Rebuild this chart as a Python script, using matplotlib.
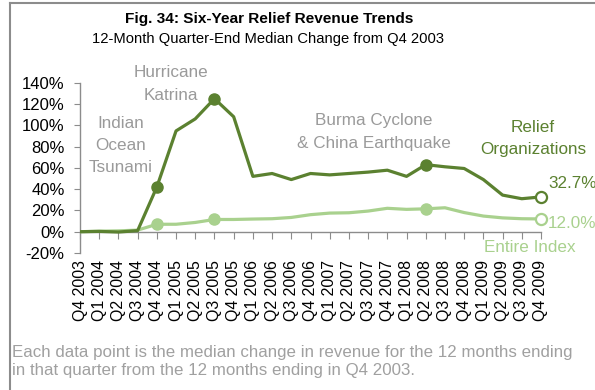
import matplotlib
matplotlib.use("Agg")
import matplotlib.pyplot as plt
from matplotlib.lines import Line2D
from matplotlib.ticker import FuncFormatter

plt.rcParams['font.family'] = ['Liberation Sans', 'DejaVu Sans']

quarters = ["Q4 2003", "Q1 2004", "Q2 2004", "Q3 2004", "Q4 2004", "Q1 2005", "Q2 2005",
            "Q3 2005", "Q4 2005", "Q1 2006", "Q2 2006", "Q3 2006", "Q4 2006", "Q1 2007",
            "Q2 2007", "Q3 2007", "Q4 2007", "Q1 2008", "Q2 2008", "Q3 2008", "Q4 2008",
            "Q1 2009", "Q2 2009", "Q3 2009", "Q4 2009"]
relief = [0, 0.3, -0.3, 1, 42, 94.7, 106, 125, 108, 52, 54.7, 49, 54.7, 53.4, 54.7, 56,
          57.8, 52, 63, 61, 59.4, 49, 34.4, 31, 32.7]
entire = [0, 0.5, 0.8, 1.5, 7, 7, 8.7, 11.5, 11.5, 11.9, 12.2, 13.4, 16, 17.5, 17.8, 19.4,
          22, 21, 21.5, 22.5, 18, 14.7, 13, 12.2, 12.0]
event_idx = [4, 7, 18]
yticks = [-20, 0, 20, 40, 60, 80, 100, 120, 140]

DARK = "#5b8130"
LIGHT = "#a9d18e"
GRAY = "#9a9a9a"
AXIS = "#8c8c8c"

W, H = 595, 390
fig = plt.figure(figsize=(W / 100, H / 100), dpi=100)

def fx(x):
    return x / W

def fy(y):
    return 1 - y / H

ax = fig.add_axes([fx(80), fy(253), fx(541) - fx(80), fy(82.7) - fy(253)])
x = list(range(len(quarters)))

ax.plot(x, entire, color=LIGHT, lw=2.3, solid_capstyle='round', zorder=3)
ax.plot(x, relief, color=DARK, lw=2.3, solid_capstyle='round', zorder=4)
ax.plot(event_idx, [entire[i] for i in event_idx], 'o', color=LIGHT, ms=8, zorder=5)
ax.plot(event_idx, [relief[i] for i in event_idx], 'o', color=DARK, ms=8, zorder=6)
ax.plot([x[-1]], [entire[-1]], 'o', mfc='white', mec=LIGHT, mew=1.6, ms=8, zorder=7, clip_on=False)
ax.plot([x[-1]], [relief[-1]], 'o', mfc='white', mec=DARK, mew=1.6, ms=8, zorder=7, clip_on=False)

ax.set_xlim(0, len(quarters) - 1)
ax.set_ylim(-20, 140)
ax.set_yticks(yticks)
ax.yaxis.set_major_formatter(FuncFormatter(lambda v, p: f"{v:.0f}%"))
ax.tick_params(axis='y', direction='out', length=4, color=AXIS, labelsize=12, pad=7,
               labelcolor='black')
ax.set_xticks(x)
ax.set_xticklabels(quarters, rotation=90, fontsize=11.4)
ax.tick_params(axis='x', length=0, pad=5)
for s in ['top', 'right', 'bottom']:
    ax.spines[s].set_visible(False)
ax.spines['left'].set_color(AXIS)
ax.spines['left'].set_linewidth(1)

sec = ax.secondary_xaxis(0.125)
sec.set_xticks(x)
sec.set_xticklabels([])
sec.tick_params(axis='x', direction='out', length=5, color=AXIS)
sec.spines['bottom'].set_color(AXIS)
sec.spines['bottom'].set_linewidth(1)

# Titles
fig.text(fx(269), fy(19), "Fig. 34: Six-Year Relief Revenue Trends", ha='center', va='center',
         fontsize=11.1, fontweight='bold')
fig.text(fx(268), fy(38.5), "12-Month Quarter-End Median Change from Q4 2003", ha='center',
         va='center', fontsize=10.6)

# Annotations
ann = dict(ha='center', va='center', fontsize=12.3, color=GRAY, linespacing=1.6)
fig.text(fx(171), fy(84), "Hurricane\nKatrina", **ann)
fig.text(fx(121), fy(145.5), "Indian\nOcean\nTsunami", **ann)
fig.text(fx(374), fy(132), "Burma Cyclone\n& China Earthquake", **ann)
fig.text(fx(533), fy(138.5), "Relief\nOrganizations", ha='center', va='center', fontsize=12.3,
         color=DARK, linespacing=1.6)
fig.text(fx(548), fy(183), f"{relief[-1]:.1f}%", ha='left', va='center', fontsize=12.3, color=DARK)
fig.text(fx(548), fy(224), f"{entire[-1]:.1f}%", ha='left', va='center', fontsize=12.3, color=LIGHT)
fig.text(fx(530), fy(248), "Entire Index", ha='center', va='center', fontsize=12.3, color=LIGHT)

# Footer
fig.text(fx(12), fy(361.5), "Each data point is the median change in revenue for the 12 months ending\n"
         "in that quarter from the 12 months ending in Q4 2003.", ha='left', va='center',
         fontsize=12.2, color="#a0a0a0", linespacing=1.3)

# Frame (left and top)
fig.add_artist(Line2D([fx(10), fx(10)], [fy(2.5), 0], transform=fig.transFigure, color=AXIS, lw=1.5))
fig.add_artist(Line2D([fx(10), 1], [fy(2.5), fy(2.5)], transform=fig.transFigure, color=AXIS, lw=1.5))

fig.savefig("out.png", dpi=100)
